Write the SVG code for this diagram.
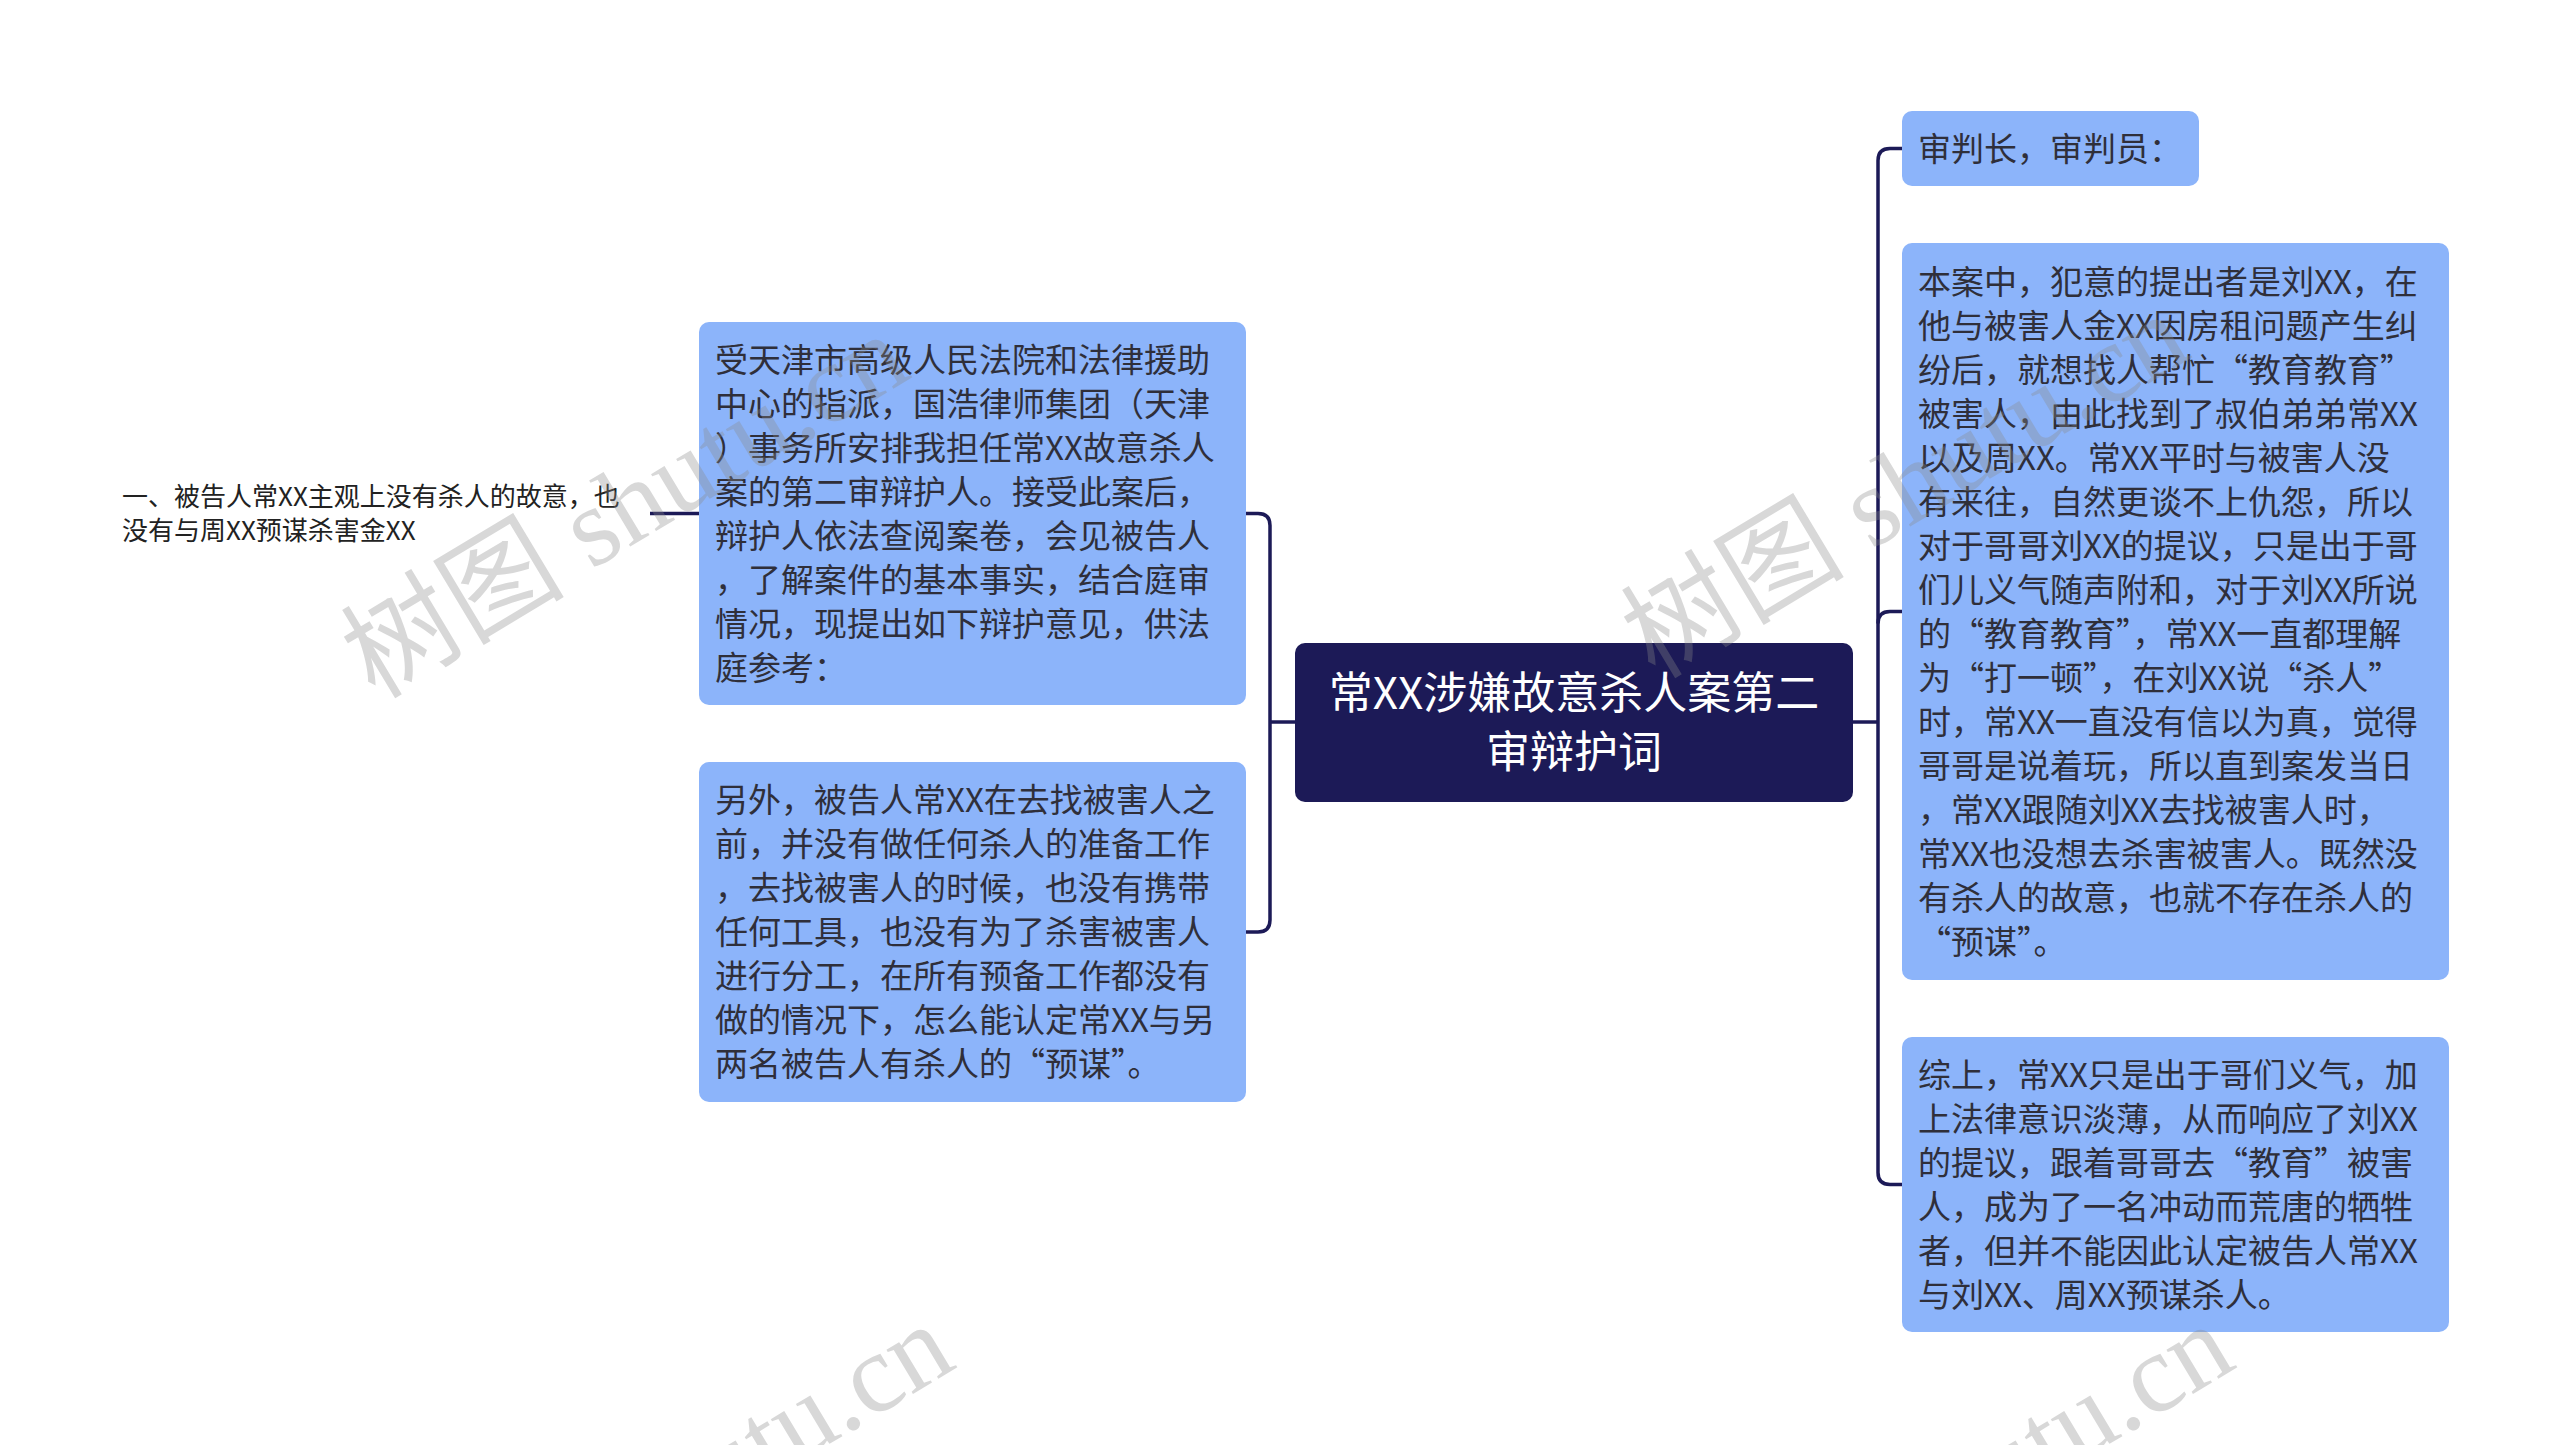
<svg xmlns="http://www.w3.org/2000/svg" width="2560" height="1445" viewBox="0 0 2560 1445">
<style>
.box{fill:#8cb4fa;}
.root{fill:#1c1a57;}
.t{font-family:"Noto Sans CJK SC","Noto Sans",sans-serif;font-size:33px;fill:#2f2f3a;}
.rt{font-family:"Noto Sans CJK SC","Noto Sans",sans-serif;font-size:44px;fill:#ffffff;text-anchor:middle;}
.lt{font-family:"Noto Sans CJK SC","Noto Sans",sans-serif;font-size:26px;fill:#222;}
.c{fill:none;stroke:#1c1a57;stroke-width:3.5;}
.wm{font-family:"Liberation Serif","Noto Sans CJK SC",serif;font-size:112px;fill:#8a8a8a;opacity:0.33;}
</style>
<rect width="2560" height="1445" fill="#ffffff"/>
<g id="connectors">
<path class="c" d="M650,513.5 H699"/>
<path class="c" d="M1246,513.5 H1258 Q1270,513.5 1270,525.5 V920 Q1270,932 1258,932 H1246"/>
<path class="c" d="M1270,722 H1295"/>
<path class="c" d="M1853,722 H1878"/>
<path class="c" d="M1902,148.5 H1890 Q1878,148.5 1878,160.5 V1172.5 Q1878,1184.5 1890,1184.5 H1902"/>
<path class="c" d="M1878,623.5 Q1878,611.5 1890,611.5 H1902"/>
</g>
<g id="root">
<rect class="root" x="1295" y="643" width="558" height="159" rx="10"/>
<text class="rt" x="1574" y="709">常XX涉嫌故意杀人案第二</text>
<text class="rt" x="1574" y="768">审辩护词</text>
</g>
<g id="left-label">
<text class="lt" x="122" y="506">一、被告人常XX主观上没有杀人的故意，也</text>
<text class="lt" x="122" y="540">没有与周XX预谋杀害金XX</text>
</g>
<g id="left1">
<rect class="box" x="699" y="322" width="547" height="383" rx="10"/>
<text class="t" x="715" y="371.5">受天津市高级人民法院和法律援助</text>
<text class="t" x="715" y="415.5">中心的指派，国浩律师集团（天津</text>
<text class="t" x="715" y="459.5">）事务所安排我担任常XX故意杀人</text>
<text class="t" x="715" y="503.5">案的第二审辩护人。接受此案后，</text>
<text class="t" x="715" y="547.5">辩护人依法查阅案卷，会见被告人</text>
<text class="t" x="715" y="591.5">，了解案件的基本事实，结合庭审</text>
<text class="t" x="715" y="635.5">情况，现提出如下辩护意见，供法</text>
<text class="t" x="715" y="679.5">庭参考：</text>
</g>
<g id="left2">
<rect class="box" x="699" y="762" width="547" height="340" rx="10"/>
<text class="t" x="715" y="812">另外，被告人常XX在去找被害人之</text>
<text class="t" x="715" y="856">前，并没有做任何杀人的准备工作</text>
<text class="t" x="715" y="900">，去找被害人的时候，也没有携带</text>
<text class="t" x="715" y="944">任何工具，也没有为了杀害被害人</text>
<text class="t" x="715" y="988">进行分工，在所有预备工作都没有</text>
<text class="t" x="715" y="1032">做的情况下，怎么能认定常XX与另</text>
<text class="t" x="715" y="1076">两名被告人有杀人的“预谋”。</text>
</g>
<g id="right1">
<rect class="box" x="1902" y="111" width="297" height="75" rx="10"/>
<text class="t" x="1918" y="160.5">审判长，审判员：</text>
</g>
<g id="right2">
<rect class="box" x="1902" y="243" width="547" height="737" rx="10"/>
<text class="t" x="1918" y="293.5">本案中，犯意的提出者是刘XX，在</text>
<text class="t" x="1918" y="337.5">他与被害人金XX因房租问题产生纠</text>
<text class="t" x="1918" y="381.5">纷后，就想找人帮忙“教育教育”</text>
<text class="t" x="1918" y="425.5">被害人，由此找到了叔伯弟弟常XX</text>
<text class="t" x="1918" y="469.5">以及周XX。常XX平时与被害人没</text>
<text class="t" x="1918" y="513.5">有来往，自然更谈不上仇怨，所以</text>
<text class="t" x="1918" y="557.5">对于哥哥刘XX的提议，只是出于哥</text>
<text class="t" x="1918" y="601.5">们儿义气随声附和，对于刘XX所说</text>
<text class="t" x="1918" y="645.5">的“教育教育”，常XX一直都理解</text>
<text class="t" x="1918" y="689.5">为“打一顿”，在刘XX说“杀人”</text>
<text class="t" x="1918" y="733.5">时，常XX一直没有信以为真，觉得</text>
<text class="t" x="1918" y="777.5">哥哥是说着玩，所以直到案发当日</text>
<text class="t" x="1918" y="821.5">，常XX跟随刘XX去找被害人时，</text>
<text class="t" x="1918" y="865.5">常XX也没想去杀害被害人。既然没</text>
<text class="t" x="1918" y="909.5">有杀人的故意，也就不存在杀人的</text>
<text class="t" x="1918" y="953.5">“预谋”。</text>
</g>
<g id="right3">
<rect class="box" x="1902" y="1037" width="547" height="295" rx="10"/>
<text class="t" x="1918" y="1086.5">综上，常XX只是出于哥们义气，加</text>
<text class="t" x="1918" y="1130.5">上法律意识淡薄，从而响应了刘XX</text>
<text class="t" x="1918" y="1174.5">的提议，跟着哥哥去“教育”被害</text>
<text class="t" x="1918" y="1218.5">人，成为了一名冲动而荒唐的牺牲</text>
<text class="t" x="1918" y="1262.5">者，但并不能因此认定被告人常XX</text>
<text class="t" x="1918" y="1306.5">与刘XX、周XX预谋杀人。</text>
</g>
<g id="watermark">
<text class="wm" transform="translate(375,700) rotate(-31)">树图 shutu.cn</text>
<text class="wm" transform="translate(420,1690) rotate(-31)">树图 shutu.cn</text>
<text class="wm" transform="translate(1655,680) rotate(-31)">树图 shutu.cn</text>
<text class="wm" transform="translate(1700,1690) rotate(-31)">树图 shutu.cn</text>
</g>
</svg>
